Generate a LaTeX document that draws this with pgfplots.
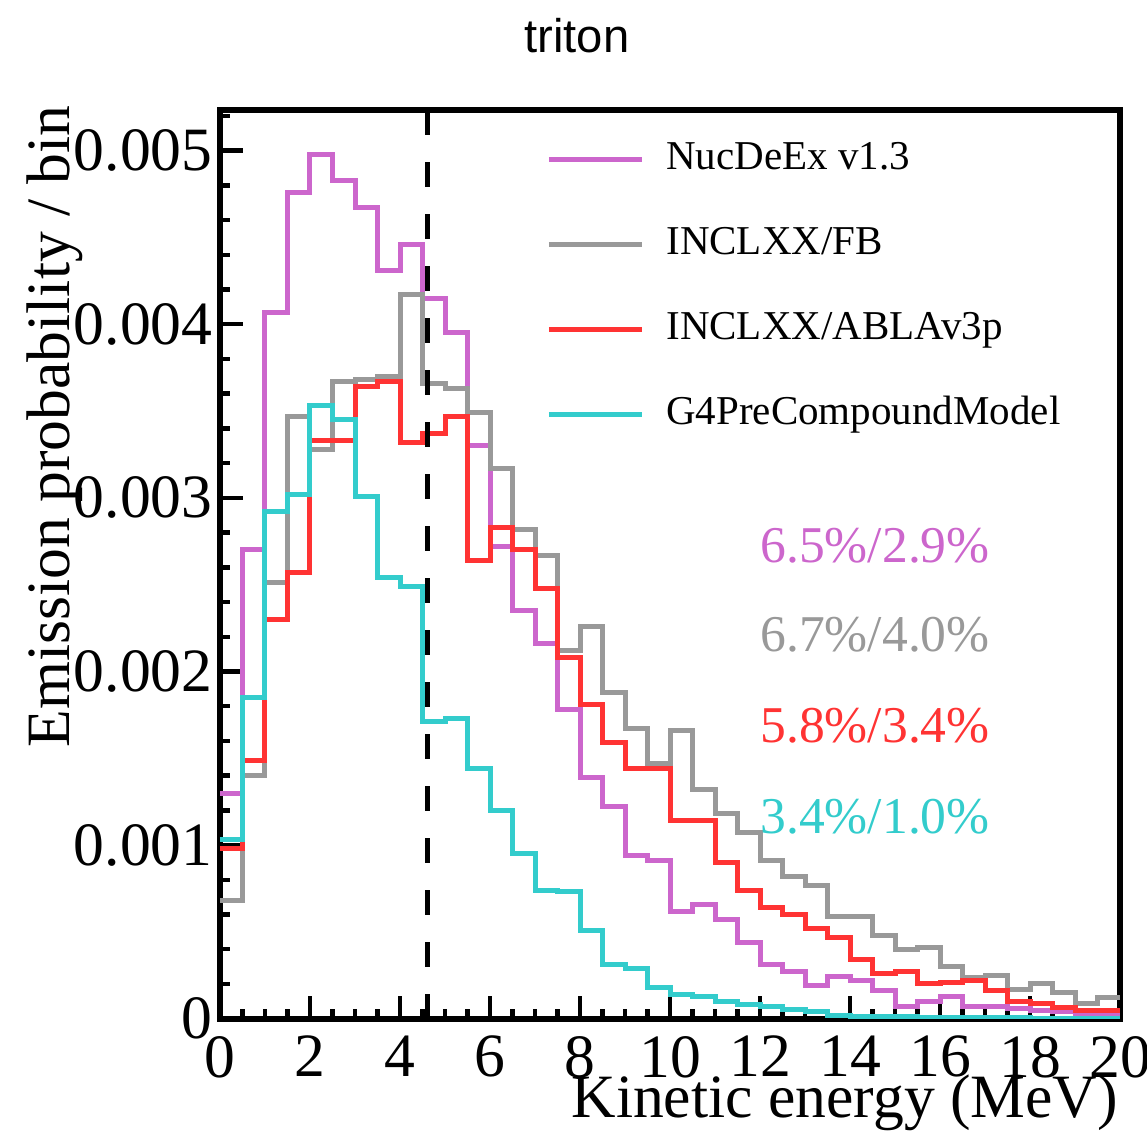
\documentclass[border=0pt]{standalone}
\usepackage{fontspec}
\setmainfont{Liberation Serif}
\newfontfamily\titlefont{Liberation Sans}
\usepackage{pgfplots}
\usepackage{pgfplotstable}
\pgfplotsset{compat=1.18}
\definecolor{cNuc}{RGB}{204,102,204}
\definecolor{cFB}{RGB}{153,153,153}
\definecolor{cABLA}{RGB}{255,51,51}
\definecolor{cPre}{RGB}{51,204,204}

% emission probability per 0.5 MeV bin, in units of 1e-3 (bin left edge in x)
\pgfplotstableread{
x    m     g     r     c
0.0  1.30  0.68  0.98  1.03
0.5  2.70  1.40  1.49  1.85
1.0  4.07  2.51  2.30  2.92
1.5  4.76  3.47  2.57  3.02
2.0  4.98  3.28  3.33  3.53
2.5  4.83  3.67  3.33  3.45
3.0  4.67  3.68  3.64  3.01
3.5  4.31  3.70  3.67  2.54
4.0  4.46  4.17  3.32  2.49
4.5  4.15  3.66  3.37  1.71
5.0  3.95  3.63  3.47  1.73
5.5  3.30  3.49  2.64  1.44
6.0  2.72  3.17  2.83  1.20
6.5  2.35  2.82  2.70  0.95
7.0  2.16  2.67  2.48  0.74
7.5  1.78  2.12  2.08  0.73
8.0  1.39  2.26  1.81  0.51
8.5  1.22  1.88  1.59  0.31
9.0  0.94  1.67  1.44  0.29
9.5  0.91  1.47  1.44  0.18
10.0 0.62  1.66  1.14  0.14
10.5 0.655 1.32  1.14  0.13
11.0 0.57  1.18  0.90  0.10
11.5 0.44  1.07  0.74  0.08
12.0 0.31  0.91  0.64  0.073
12.5 0.27  0.82  0.60  0.054
13.0 0.19  0.77  0.52  0.04
13.5 0.245 0.59  0.47  0.02
14.0 0.22  0.59  0.34  0.015
14.5 0.16  0.48  0.26  0.012
15.0 0.073 0.40  0.27  0.01
15.5 0.10  0.41  0.20  0.008
16.0 0.13  0.30  0.21  0.007
16.5 0.07  0.24  0.22  0.006
17.0 0.07  0.25  0.16  0.005
17.5 0.06  0.17  0.10  0.005
18.0 0.05  0.20  0.085 0.004
18.5 0.04  0.15  0.063 0.004
19.0 0.03  0.09  0.05  0.003
19.5 0.03  0.12  0.05  0.003
20.0 0.03  0.12  0.05  0.003
}\hist

\begin{document}
\begin{tikzpicture}
\begin{axis}[
  at={(110pt,56.65pt)}, anchor=south west,
  scale only axis, width=450pt, height=454.35pt,
  xmin=0, xmax=20, ymin=0, ymax=5.234,
  clip mode=individual,
  xtick={0,2,...,20}, minor xtick={0,0.5,...,20},
  ytick={0,1,2,3,4,5}, yticklabels={0,0.001,0.002,0.003,0.004,0.005},
  minor ytick={0,0.2,...,5.2},
  tick align=inside, tick pos=left,
  major tick length=11.5pt, minor tick length=5pt,
  tick style={black, line width=2.2pt},
  axis line style={line width=2.8pt},
  /pgf/number format/assume math mode=true,
  ticklabel style={font=\fontsize{30.8}{36}\selectfont, inner sep=0pt},
  xticklabel style={yshift=-8.5pt},
  yticklabel style={xshift=-3.5pt},
  legend style={at={(0.3622,0.9678)}, anchor=north west, draw=none, fill=none,
    font=\fontsize{20.5}{24}\selectfont, inner sep=0pt, row sep=22.5pt, column sep=11pt,
    nodes={inner sep=0pt, text height=15pt, text depth=5pt}},
  legend cell align=left,
  legend image code/.code={\draw[#1] (0pt,0pt) -- (46.5pt,0pt);},
  every axis plot/.append style={line width=2.5pt, line join=miter},
]
\addplot[cNuc, const plot mark left] table[x=x, y=m] {\hist};
\addlegendentry{NucDeEx v1.3}
\addplot[cFB, const plot mark left] table[x=x, y=g] {\hist};
\addlegendentry{INCLXX/FB}
\addplot[cABLA, const plot mark left] table[x=x, y=r] {\hist};
\addlegendentry{INCLXX/ABLAv3p}
\addplot[cPre, const plot mark left] table[x=x, y=c] {\hist};
\addlegendentry{G4PreCompoundModel}
\addplot[black, dash pattern=on 12.5pt off 13.5pt, forget plot] coordinates {(4.6,0) (4.6,5.234)};

\node[anchor=base west, inner sep=0pt, text=cNuc, font=\fontsize{25.8}{30}\selectfont] at (axis cs:12.0,2.625) {6.5\%/2.9\%};
\node[anchor=base west, inner sep=0pt, text=cFB, font=\fontsize{25.8}{30}\selectfont] at (axis cs:12.0,2.114) {6.7\%/4.0\%};
\node[anchor=base west, inner sep=0pt, text=cABLA, font=\fontsize{25.8}{30}\selectfont] at (axis cs:12.0,1.592) {5.8\%/3.4\%};
\node[anchor=base west, inner sep=0pt, text=cPre, font=\fontsize{25.8}{30}\selectfont] at (axis cs:12.0,1.068) {3.4\%/1.0\%};

\node[anchor=base east, font=\fontsize{30.8}{36}\selectfont, inner sep=0pt] at (axis description cs:0.998,-0.109) {Kinetic energy (MeV)};
\node[anchor=base east, rotate=90, font=\fontsize{30.8}{36}\selectfont, inner sep=0pt] at (axis description cs:-0.1667,1.0055) {Emission probability / bin};
\end{axis}
\node[anchor=base, font=\titlefont\fontsize{23.6}{28}\selectfont, inner sep=0pt] at (288.5pt,539.5pt) {triton};
\pgfresetboundingbox
\path[use as bounding box] (0,0) rectangle (573.5pt,566pt);
\end{tikzpicture}
\end{document}
